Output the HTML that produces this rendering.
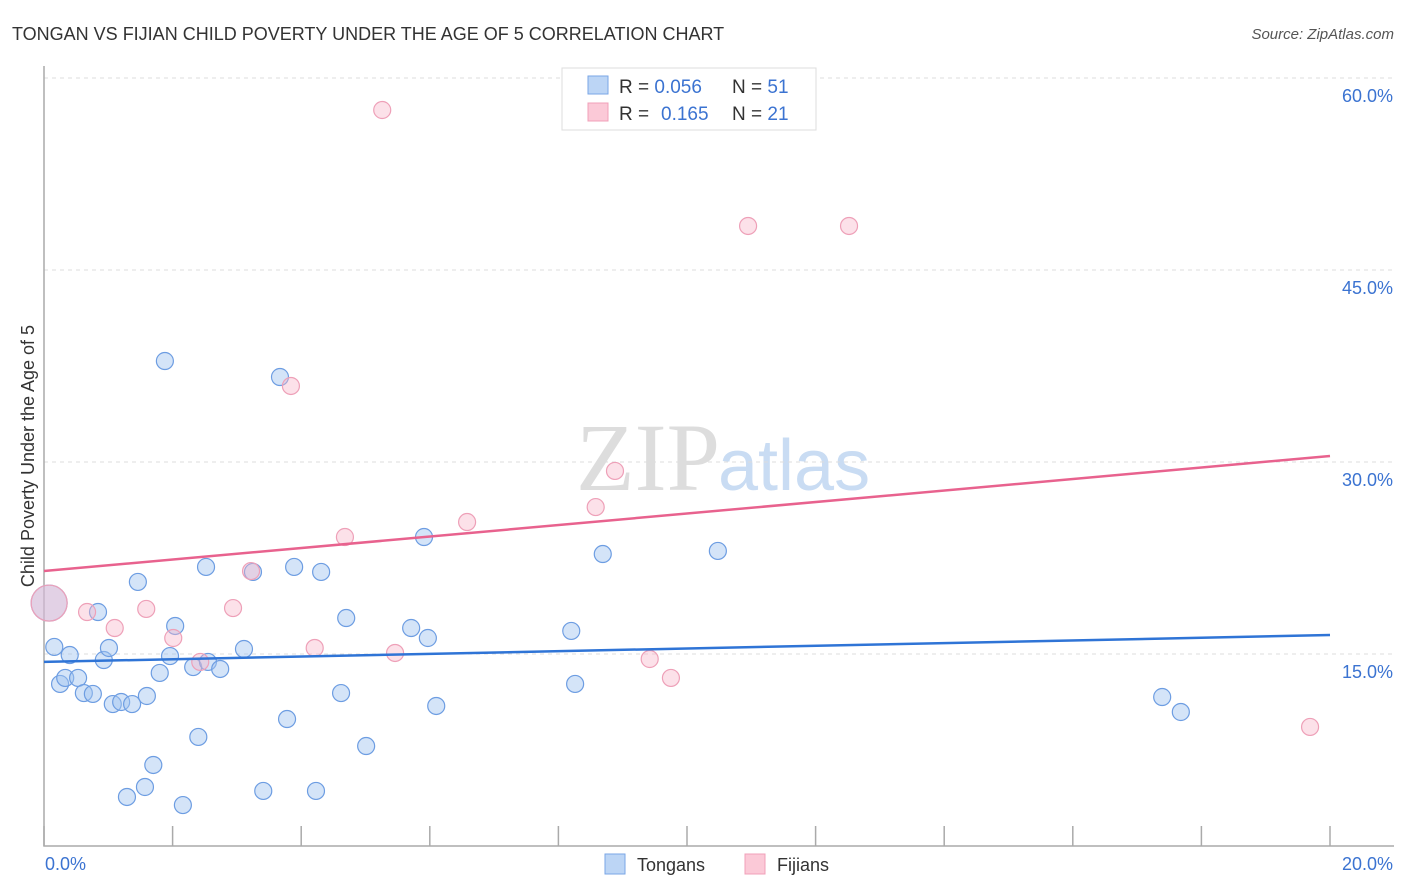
<!DOCTYPE html>
<html><head><meta charset="utf-8"><style>
body{margin:0;background:#fff;font-family:"Liberation Sans",sans-serif}
svg{display:block}
</style></head><body>
<svg id="chart" width="1406" height="892" viewBox="0 0 1406 892">
<text x="12" y="40" font-size="18" fill="#333">TONGAN VS FIJIAN CHILD POVERTY UNDER THE AGE OF 5 CORRELATION CHART</text>
<text x="1394" y="39" font-size="15" fill="#555" font-style="italic" text-anchor="end">Source: ZipAtlas.com</text>
<text x="720" y="490" font-size="96" fill="#ddd" font-family="Liberation Serif,serif" text-anchor="end">ZIP</text>
<text x="718" y="490" font-size="72" fill="#c9dcf3">atlas</text>
<g id="grid"></g><g id="axes"></g><g id="marks"></g>
<text transform="translate(34,456) rotate(-90)" font-size="18" fill="#333" text-anchor="middle">Child Poverty Under the Age of 5</text>
<text x="45" y="870" font-size="18" fill="#3b73d1">0.0%</text>
<text x="1393" y="870" font-size="18" fill="#3b73d1" text-anchor="end">20.0%</text>
<g>
<rect x="562" y="68" width="254" height="62" fill="#fff" stroke="#ddd"/>
<rect x="588" y="76" width="20" height="18" fill="#bcd5f5" stroke="#7aa6e6"/>
<rect x="588" y="103" width="20" height="18" fill="#fbc9d7" stroke="#f0a0b8"/>
<text x="619" y="93" font-size="19" fill="#333">R = <tspan fill="#3b73d1">0.056</tspan><tspan x="732">N = </tspan><tspan fill="#3b73d1">51</tspan></text>
<text x="619" y="120" font-size="19" fill="#333">R = <tspan x="661" fill="#3b73d1">0.165</tspan><tspan x="732">N = </tspan><tspan fill="#3b73d1">21</tspan></text>
</g>
<g>
<rect x="605" y="854" width="20" height="20" fill="#bcd5f5" stroke="#7aa6e6"/>
<text x="637" y="871" font-size="18" fill="#333">Tongans</text>
<rect x="745" y="854" width="20" height="20" fill="#fbc9d7" stroke="#f0a0b8"/>
<text x="777" y="871" font-size="18" fill="#333">Fijians</text>
</g>
</svg>
<script>
const yTicks=[15,30,45,60];
const yTickLabels=["15.0%","30.0%","45.0%","60.0%"];
const xTicks=[0,2,4,6,8,10,12,14,16,18,20];
const tongansX=[0.08,0.16,0.40,0.25,0.33,0.53,0.62,0.76,0.84,0.93,1.01,1.07,1.20,1.37,1.29,1.46,1.57,1.60,1.70,1.80,1.88,1.96,2.04,2.16,2.32,2.40,2.52,2.55,2.74,3.11,3.25,3.41,3.67,3.78,3.89,4.23,4.31,4.62,4.70,5.01,5.71,5.91,5.97,6.10,8.20,8.26,8.69,10.48,17.39,17.68];
const tongansY=[18.98,15.55,14.92,12.66,13.13,13.13,11.95,11.88,18.28,14.53,15.47,11.09,11.25,11.09,3.83,20.63,4.61,11.72,6.33,13.52,37.89,14.84,17.19,3.20,13.98,8.52,21.80,14.38,13.83,15.39,21.41,4.30,36.64,9.92,21.80,4.30,21.41,11.95,17.81,7.81,17.03,24.14,16.25,10.94,16.80,12.66,22.81,23.05,11.64,10.47];
const fijiansX=[0.08,0.67,1.10,1.59,2.01,2.43,2.94,3.22,3.84,4.21,4.68,5.26,5.46,6.58,8.58,8.88,9.42,9.75,10.95,12.52,19.69];
const fijiansY=[18.98,18.28,17.03,18.52,16.25,14.38,18.59,21.48,35.94,15.47,24.14,57.50,15.08,25.31,26.48,29.30,14.61,13.13,48.44,48.44,9.30];
const tongansTrend=[14.38,16.48];
const fijiansTrend=[21.48,30.47];
const X=v=>44+v/20*1286, Y=v=>846-v*12.8;
const NS="http://www.w3.org/2000/svg";
function mk(t,a,p){const e=document.createElementNS(NS,t);for(const k in a)e.setAttribute(k,a[k]);p.appendChild(e);return e;}
const grid=document.getElementById('grid'),axes=document.getElementById('axes'),marks=document.getElementById('marks');
yTicks.forEach((t,i)=>{
 const l=mk('line',{x1:44,x2:1394,y1:Y(t),y2:Y(t),stroke:'#ddd','stroke-dasharray':'4,4'},grid);
 
 
 const tx=mk('text',{x:1393,y:Y(t)+24,'font-size':18,fill:'#3b73d1','text-anchor':'end'},grid);
 tx.textContent=yTickLabels[i];
 
 
});
const ax=mk('path',{d:'M44,66V846H1394',fill:'none',stroke:'#aaa','stroke-width':1.5},axes);


xTicks.forEach(t=>{
 const l=mk('line',{x1:X(t),x2:X(t),y1:826,y2:846,stroke:'#aaa','stroke-width':1.5},axes);
 
 
});
function dots(xs,ys,fill,stroke,name){
 xs.forEach((x,i)=>{
  const c=mk('circle',{cx:X(x),cy:Y(ys[i]),r:i===0?18:8.5,fill:fill,stroke:stroke,'stroke-width':1.2},marks);
  
  
 });
}
dots(tongansX,tongansY,'rgba(160,195,240,0.45)','#6d9de2','tongans-point');
dots(fijiansX,fijiansY,'rgba(248,180,200,0.4)','#eea0b8','fijians-point');
const tl=mk('line',{x1:X(0),x2:X(20),y1:Y(tongansTrend[0]),y2:Y(tongansTrend[1]),stroke:'#2f74d6','stroke-width':2.5},marks);


const fl=mk('line',{x1:X(0),x2:X(20),y1:Y(fijiansTrend[0]),y2:Y(fijiansTrend[1]),stroke:'#e8628e','stroke-width':2.5},marks);


</script>
</body></html>
